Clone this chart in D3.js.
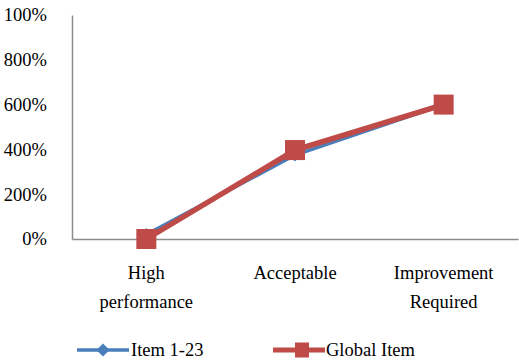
<!DOCTYPE html>
<html>
<head>
<meta charset="utf-8">
<script src="https://cdn.jsdelivr.net/npm/d3@7"></script>
<style>
  body { margin: 0; background: #fff; }
</style>
</head>
<body>
<div id="chart"></div>
<script>
// data
var categories = [['High', 'performance'], ['Acceptable'], ['Improvement', 'Required']];
var item123 = [20, 375, 600];
var globalItem = [0, 397, 600];
var yTicks = [0, 200, 400, 600, 800, 1000];
var yTickLabels = ['0%', '200%', '400%', '600%', '800%', '100%'];
var seriesNames = ['Item 1-23', 'Global Item'];

var FONT = "'Liberation Serif', 'DejaVu Serif', serif";
var FSIZE = '18.5px';

var width = 519, height = 364;
var margin = { top: 15, right: 1, bottom: 125, left: 72 };
var innerW = width - margin.left - margin.right;
var innerH = height - margin.top - margin.bottom;

var svg = d3.select('#chart').append('svg')
    .attr('width', width)
    .attr('height', height)
    .attr('font-family', FONT);

var g = svg.append('g')
    .attr('transform', 'translate(' + margin.left + ',' + margin.top + ')');

var x = d3.scaleBand()
    .domain(d3.range(categories.length))
    .range([0, innerW])
    .padding(0);

var y = d3.scaleLinear()
    .domain([0, 1000])
    .range([innerH, 0]);

// y axis
var yAxis = g.append('g')
    .call(d3.axisLeft(y).tickValues(yTicks).tickSize(0).tickPadding(25)
        .tickFormat(function (d, i) { return yTickLabels[i]; }));
yAxis.attr('font-family', FONT);
yAxis.select('.domain').attr('stroke', '#8c8c8c').attr('stroke-width', 1.5);
yAxis.selectAll('text').style('font-size', FSIZE).style('font-family', FONT).attr('fill', '#000');

// x axis
var xAxis = g.append('g')
    .attr('transform', 'translate(0,' + innerH + ')')
    .call(d3.axisBottom(x).tickSize(0).tickFormat(''));
xAxis.select('.domain').attr('stroke', '#8c8c8c').attr('stroke-width', 1.5);

// category labels
var catLabels = g.append('g').selectAll('text')
    .data(categories)
    .enter().append('text')
    .attr('text-anchor', 'middle')
    .style('font-size', FSIZE)
    .style('font-family', FONT)
    .attr('transform', function (d, i) { return 'translate(' + (x(i) + x.bandwidth() / 2) + ',' + (innerH + 40) + ')'; });
catLabels.selectAll('tspan')
    .data(function (d) { return d; })
    .enter().append('tspan')
    .attr('x', 0)
    .attr('dy', function (d, i) { return i === 0 ? 0 : 28.5; })
    .text(function (d) { return d; });

var cx = function (d, i) { return x(i) + x.bandwidth() / 2; };
var line = d3.line()
    .x(function (d, i) { return x(i) + x.bandwidth() / 2; })
    .y(function (d) { return y(d); });

// blue series
g.append('path')
    .datum(item123)
    .attr('fill', 'none')
    .attr('stroke', '#4a7ebb')
    .attr('stroke-width', 3.5)
    .attr('d', line);
g.selectAll('.diamond')
    .data(item123)
    .enter().append('path')
    .attr('class', 'diamond')
    .attr('fill', '#4a7ebb')
    .attr('d', d3.symbol().type(d3.symbolDiamond2).size(110))
    .attr('transform', function (d, i) { return 'translate(' + cx(d, i) + ',' + y(d) + ')'; });

// red series
g.append('path')
    .datum(globalItem)
    .attr('fill', 'none')
    .attr('stroke', '#be4b48')
    .attr('stroke-width', 5.5)
    .attr('d', line);
g.selectAll('.square')
    .data(globalItem)
    .enter().append('rect')
    .attr('class', 'square')
    .attr('fill', '#be4b48')
    .attr('x', function (d, i) { return cx(d, i) - 10; })
    .attr('y', function (d) { return y(d) - 10; })
    .attr('width', 20)
    .attr('height', 20);

// legend
var legend = svg.append('g').style('font-family', FONT);
var lg1 = legend.append('g').attr('transform', 'translate(77,350)');
lg1.append('line').attr('x1', 0).attr('x2', 52).attr('stroke', '#4a7ebb').attr('stroke-width', 3.5);
lg1.append('path').attr('fill', '#4a7ebb')
    .attr('d', d3.symbol().type(d3.symbolDiamond2).size(110))
    .attr('transform', 'translate(26,0)');
lg1.append('text').attr('x', 54).attr('y', 6).style('font-size', FSIZE).style('font-family', FONT).text(seriesNames[0]);

var lg2 = legend.append('g').attr('transform', 'translate(273,350)');
lg2.append('line').attr('x1', 0).attr('x2', 52).attr('stroke', '#be4b48').attr('stroke-width', 5);
lg2.append('rect').attr('fill', '#be4b48').attr('x', 22).attr('y', -7.5).attr('width', 14).attr('height', 15);
lg2.append('text').attr('x', 53).attr('y', 6).style('font-size', FSIZE).style('font-family', FONT).text(seriesNames[1]);
</script>
</body>
</html>
